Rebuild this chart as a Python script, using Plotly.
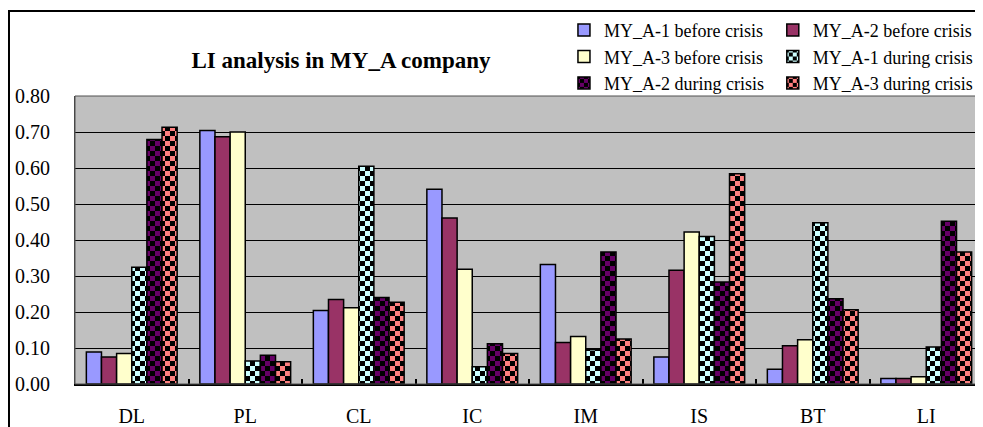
import plotly.graph_objects as go

categories = ['DL', 'PL', 'CL', 'IC', 'IM', 'IS', 'BT', 'LI']

series_names = ['MY_A-1 before crisis', 'MY_A-2 before crisis',
                'MY_A-3 before crisis', 'MY_A-1 during crisis',
                'MY_A-2 during crisis', 'MY_A-3 during crisis']

a1_before = [0.089, 0.704, 0.204, 0.541, 0.332, 0.075, 0.041, 0.015]
a2_before = [0.075, 0.687, 0.235, 0.461, 0.115, 0.316, 0.106, 0.015]
a3_before = [0.085, 0.700, 0.212, 0.319, 0.132, 0.422, 0.123, 0.020]
a1_during = [0.324, 0.064, 0.605, 0.048, 0.095, 0.410, 0.448, 0.103]
a2_during = [0.679, 0.080, 0.240, 0.112, 0.367, 0.283, 0.237, 0.452]
a3_during = [0.713, 0.062, 0.227, 0.085, 0.125, 0.584, 0.206, 0.367]

values = [a1_before, a2_before, a3_before, a1_during, a2_during, a3_during]

LAVENDER = '#9999FF'
MAROON   = '#993366'
CREAM    = '#FFFFCC'
ICE      = '#CCFFFF'
PLUM     = '#660066'
SALMON   = '#FF8080'

colors   = [LAVENDER, MAROON, CREAM, ICE, PLUM, SALMON]
checkers = [False, False, False, True, True, True]
# legend is laid out in two columns, read row by row
legend_col = ['legend', 'legend2', 'legend', 'legend2', 'legend', 'legend2']

FONT = 'Liberation Serif'
checker_path = 'M0,0H5V5H0Z M5,5H10V10H5Z'

fig = go.Figure()
for name, vals, col, chk, lg in zip(series_names, values, colors, checkers, legend_col):
    marker = dict(color=col, line=dict(color='black', width=1.5))
    if chk:
        marker['pattern'] = dict(path=checker_path, size=10, solidity=0.5,
                                 fgcolor='black', bgcolor=col, fillmode='replace')
    fig.add_trace(go.Bar(x=categories, y=vals, name=name, marker=marker, legend=lg))

leg_style = dict(orientation='v', yanchor='top', xanchor='left', y=1.292,
                 font=dict(family=FONT, size=18), bgcolor='rgba(0,0,0,0)',
                 traceorder='normal', itemwidth=30)

# page adds an 8px body margin, so the figure is 8px smaller than the window
fig.update_layout(
    width=975, height=419,
    margin=dict(l=67, r=0, t=88, b=40),
    paper_bgcolor='white',
    plot_bgcolor='#C0C0C0',
    barmode='group', bargap=0.2, bargroupgap=0,
    font=dict(family=FONT, color='black', size=20),
    title=dict(text='<b>LI analysis in MY_A company</b>', font=dict(family=FONT, size=23),
               x=0.3415, xref='container', xanchor='center',
               y=0.876, yref='container', yanchor='middle'),
    legend=dict(x=0.5385, **leg_style),
    legend2=dict(x=0.7685, **leg_style),
    showlegend=True,
)

fig.update_xaxes(type='category', showline=True, linecolor='black', linewidth=2,
                 ticks='inside', tickson='boundaries', ticklen=5, tickwidth=1.5,
                 tickcolor='black', ticklabelstandoff=13, showgrid=False)
fig.update_yaxes(range=[0, 0.8], dtick=0.1, tickformat='.2f', showgrid=True,
                 gridcolor='black', gridwidth=1.3, zeroline=False,
                 showline=True, linecolor='#404040', linewidth=1,
                 ticklabelstandoff=20, tickfont=dict(size=20))

# outer chart frame and plot-area border
fig.add_shape(type='rect', xref='paper', yref='paper', x0=-0.0727, x1=1.2,
              y0=-0.5, y1=1.2955, line=dict(color='black', width=2))
fig.add_shape(type='rect', xref='paper', yref='paper', x0=0, x1=1.01,
              y0=0, y1=1, line=dict(color='#505050', width=1))

fig.write_html('out.html')
